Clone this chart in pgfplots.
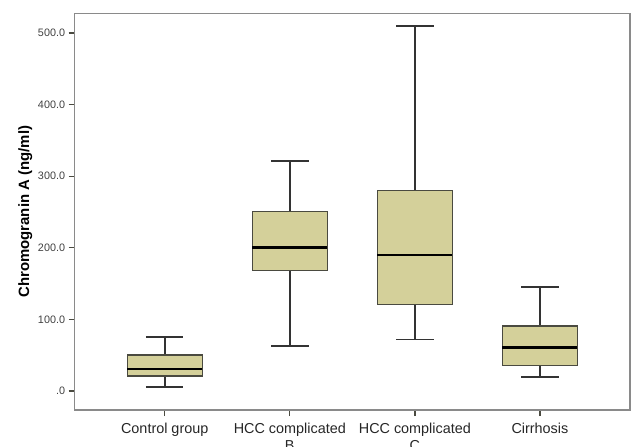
\documentclass[border=0pt]{standalone}
\usepackage{fontspec}
\setmainfont{Liberation Sans}
\usepackage{pgfplots}
\pgfplotsset{compat=1.18}
\definecolor{boxfill}{HTML}{D4D09A}
\definecolor{framegray}{HTML}{8A8A8A}
\definecolor{edgegray}{HTML}{4A4A40}
\begin{document}
\begin{tikzpicture}
\begin{axis}[
  scale only axis,
  width=416.5pt, height=297.5pt,
  xmin=-0.72, xmax=3.72,
  ymin=-26.5, ymax=527.5,
  axis line style={draw=framegray, line width=1.1pt},
  xtick={0,1,2,3},
  xticklabels={Control group, HCC complicated\\B, HCC complicated\\C, Cirrhosis},
  xticklabel style={align=center, font=\fontsize{10.8}{12.5}\selectfont, text=black!85, yshift=-2pt},
  ytick={0,100,200,300,400,500},
  yticklabels={.0,100.0,200.0,300.0,400.0,500.0},
  yticklabel style={font=\fontsize{8.1}{9}\selectfont, text=black!75, xshift=0.8pt},
  tick align=outside,
  major tick length=4.5pt,
  tick style={draw=edgegray, line width=1pt},
  xtick pos=bottom, ytick pos=left,
  ylabel={\bfseries Chromogranin A (ng/ml)},
  ylabel style={font=\fontsize{11.2}{13}\selectfont},
  ylabel shift=-2.5pt,
  whisk/.style={draw=black!80, line width=1.3pt},
  boxst/.style={draw=edgegray, line width=0.8pt, fill=boxfill},
  med/.style={draw=black, line width=1.9pt},
]
% Control group: lw 5.2, q1 21, med 30.7, q3 50.3, uw 75.8
\addplot[whisk] coordinates {(0,50.3) (0,75.8)};
\addplot[whisk] coordinates {(-0.15,75.8) (0.15,75.8)};
\addplot[whisk] coordinates {(0,21) (0,5.2)};
\addplot[whisk] coordinates {(-0.15,5.2) (0.15,5.2)};
\addplot[boxst] coordinates {(-0.3,21) (0.3,21) (0.3,50.3) (-0.3,50.3)} -- cycle;
\addplot[med] coordinates {(-0.3,30.7) (0.3,30.7)};
% HCC complicated B: lw 63.3, q1 168, med 200.1, q3 250.4, uw 320.8
\addplot[whisk] coordinates {(1,250.4) (1,320.8)};
\addplot[whisk] coordinates {(0.85,320.8) (1.15,320.8)};
\addplot[whisk] coordinates {(1,168) (1,63.3)};
\addplot[whisk] coordinates {(0.85,63.3) (1.15,63.3)};
\addplot[boxst] coordinates {(0.7,168) (1.3,168) (1.3,250.4) (0.7,250.4)} -- cycle;
\addplot[med] coordinates {(0.7,200.1) (1.3,200.1)};
% HCC complicated C: lw 72, q1 121, med 190, q3 279.7, uw 510
\addplot[whisk] coordinates {(2,279.7) (2,510)};
\addplot[whisk] coordinates {(1.85,510) (2.15,510)};
\addplot[whisk] coordinates {(2,121) (2,72)};
\addplot[whisk] coordinates {(1.85,72) (2.15,72)};
\addplot[boxst] coordinates {(1.7,121) (2.3,121) (2.3,279.7) (1.7,279.7)} -- cycle;
\addplot[med] coordinates {(1.7,190) (2.3,190)};
% Cirrhosis: lw 20, q1 35.4, med 60.5, q3 90.8, uw 145.7
\addplot[whisk] coordinates {(3,90.8) (3,145.7)};
\addplot[whisk] coordinates {(2.85,145.7) (3.15,145.7)};
\addplot[whisk] coordinates {(3,35.4) (3,20)};
\addplot[whisk] coordinates {(2.85,20) (3.15,20)};
\addplot[boxst] coordinates {(2.7,35.4) (3.3,35.4) (3.3,90.8) (2.7,90.8)} -- cycle;
\addplot[med] coordinates {(2.7,60.5) (3.3,60.5)};
\end{axis}
\pgfresetboundingbox
\useasboundingbox (-56.0pt,-27pt) rectangle (419.5pt,307.5pt);
\end{tikzpicture}
\end{document}
